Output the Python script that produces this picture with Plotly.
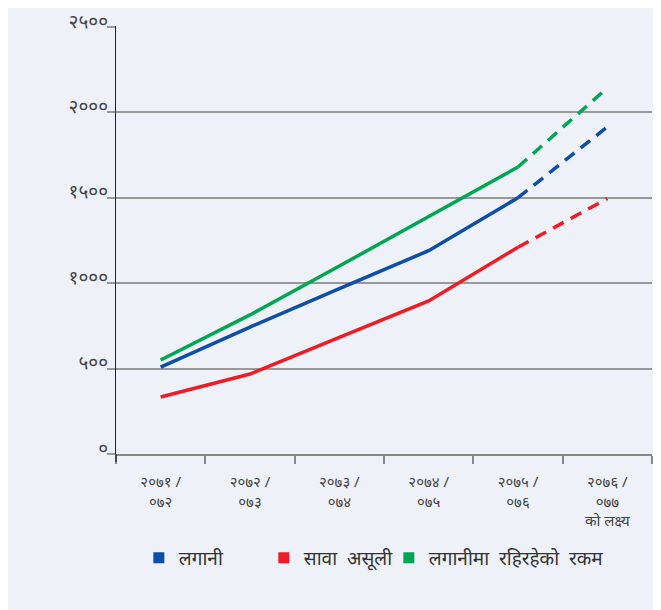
import plotly.graph_objects as go

categories = ["२०७१ /<br>०७२", "२०७२ /<br>०७३", "२०७३ /<br>०७४",
              "२०७४ /<br>०७५", "२०७५ /<br>०७६", "२०७६ /<br>०७७<br>को लक्ष्य"]
lagani = [509, 743, 968, 1190, 1500, 1915]
sawa_asuli = [334, 468, 682, 896, 1210, 1495]
rahiraheko = [550, 814, 1100, 1389, 1680, 2143]
series_names = ["लगानी", "सावा  असूली", "लगानीमा  रहिरहेको  रकम"]
colors = ["#0D4EA6", "#EE1C25", "#00A651"]
ytick_vals = [0, 500, 1000, 1500, 2000, 2500]
ytick_text = ["०", "५००", "१०००", "१५००", "२०००", "२५००"]

FONT = "Noto Sans, DejaVu Sans, sans-serif"
BG = "#EEF1F8"

# page has an 8px body margin; figure coordinates below are page coords - 8
OFF = 8
W, H = 661 - OFF, 610 - OFF
PL, PR, PT, PB = 116 - OFF, 652 - OFF, 26 - OFF, 454 - OFF
PW, PH = PR - PL, PB - PT

fig = go.Figure()
n_actual = 5  # first five are actual, last is target (dashed)
for vals, name, col in zip([lagani, sawa_asuli, rahiraheko], series_names, colors):
    fig.add_trace(go.Scatter(x=categories[:n_actual], y=vals[:n_actual], mode="lines",
                             line=dict(color=col, width=3.5), showlegend=False,
                             hoverinfo="skip"))
    fig.add_trace(go.Scatter(x=categories[n_actual - 1:], y=vals[n_actual - 1:], mode="lines",
                             line=dict(color=col, width=3.5, dash="12px,8px"),
                             showlegend=False, hoverinfo="skip"))
for name, col in zip(series_names, colors):
    fig.add_trace(go.Scatter(x=[None], y=[None], mode="markers", name=name,
                             marker=dict(symbol="square", size=11, color=col)))
# spacer legend entry so the last label is not clipped
fig.add_trace(go.Scatter(x=[None], y=[None], mode="markers", name=" ",
                         marker=dict(symbol="square", size=11, color="rgba(0,0,0,0)")))

fig.update_layout(
    width=W, height=H,
    margin=dict(l=PL, r=W - PR, t=PT, b=H - PB),
    paper_bgcolor=BG,
    plot_bgcolor=BG,
    font=dict(family=FONT, color="#333333"),
    shapes=[dict(type="line", xref="paper", yref="paper", x0=0, x1=0,
                 y0=-8 / PH, y1=0, line=dict(color="#222222", width=1.2))],
    legend=dict(orientation="h", x=0.0426, xanchor="left", y=(454 - 558) / PH, yanchor="middle",
                font=dict(size=19, color="#333333"), entrywidth=80,
                entrywidthmode="pixels", bgcolor="rgba(0,0,0,0)"),
    xaxis=dict(range=[-0.5, 5.5], tickson="boundaries", ticks="outside", ticklen=8,
               tickcolor="#888888", tickwidth=1.5, showgrid=False, showline=True,
               linecolor="#888888", linewidth=2, zeroline=False, automargin=False,
               tickfont=dict(size=15, color="#444444"), ticklabelstandoff=13,
               fixedrange=True),
    yaxis=dict(range=[0, 2505], tickvals=ytick_vals, ticktext=ytick_text,
               ticks="outside", ticklen=8, tickcolor="#999999", tickwidth=1.5,
               showgrid=True, gridcolor="#999999", gridwidth=1.5,
               showline=True, linecolor="#222222", linewidth=1.2, zeroline=False,
               automargin=False, ticklabelshift=-6, ticklabelstandoff=-5,
               ticklabeloverflow="allow",
               tickfont=dict(size=19, color="#444444"), fixedrange=True),
)

fig.write_html("out.html")
